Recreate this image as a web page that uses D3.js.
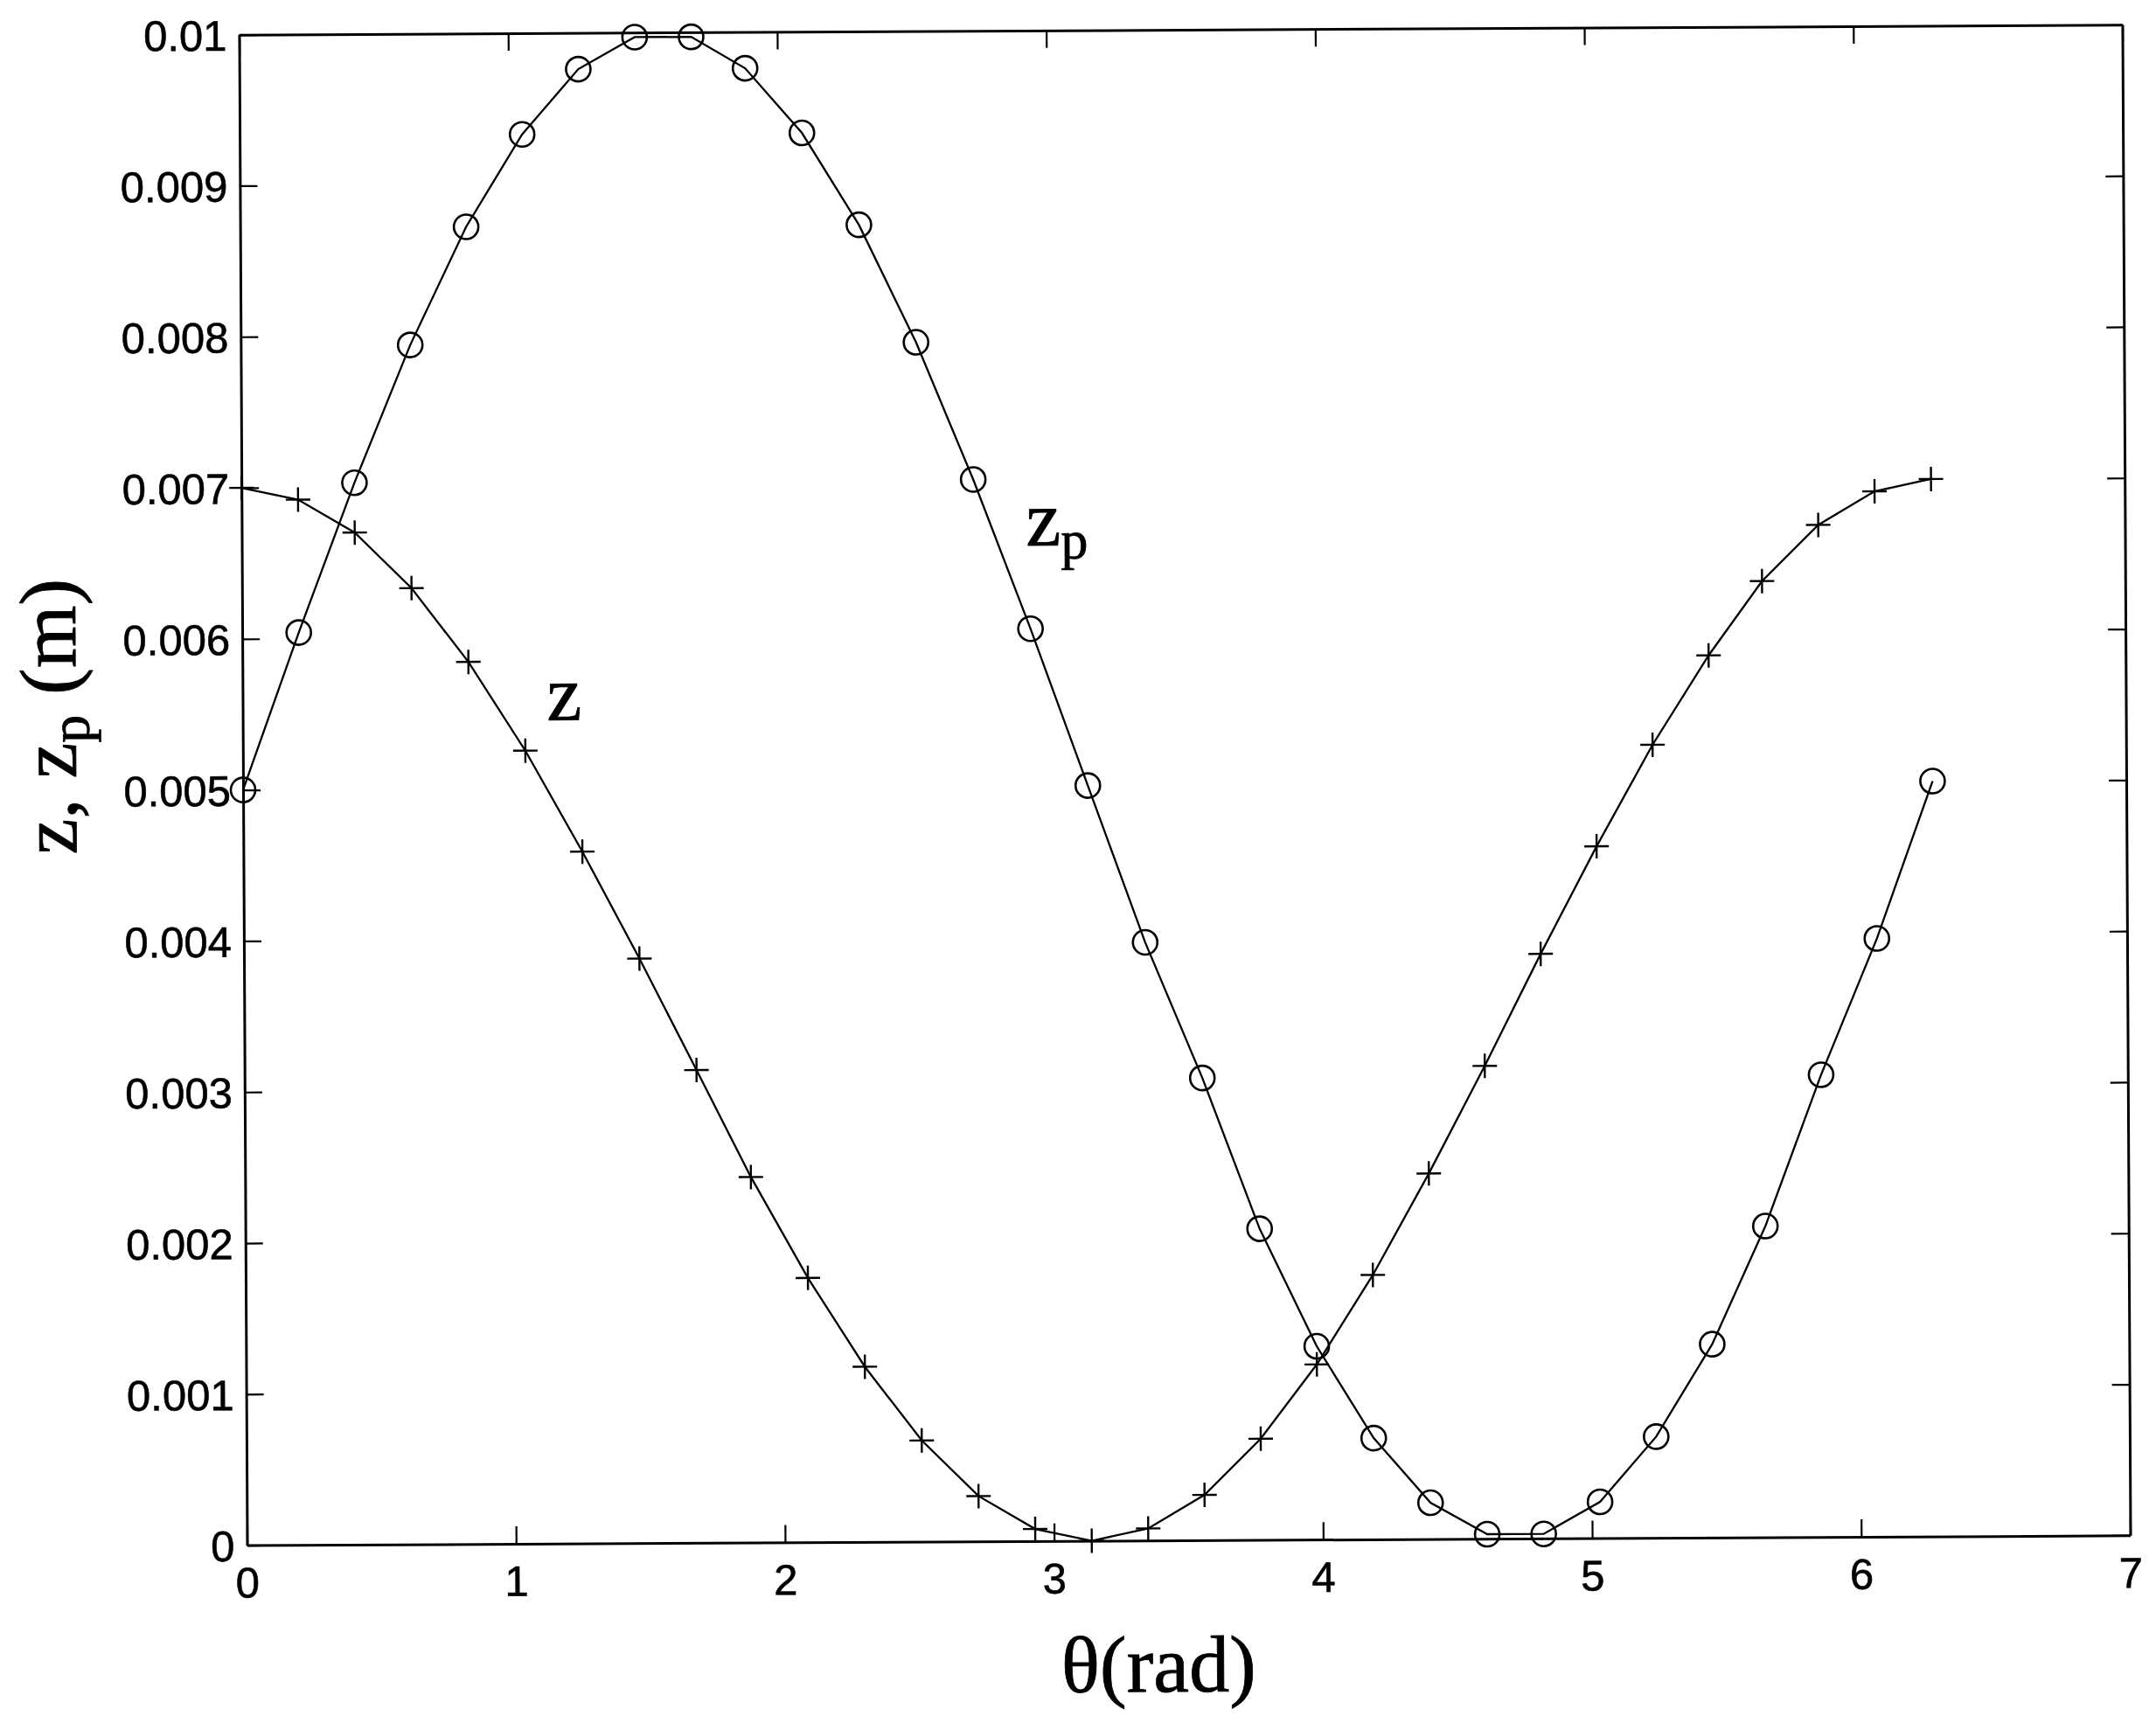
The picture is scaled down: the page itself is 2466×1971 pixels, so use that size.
<!DOCTYPE html>
<html><head><meta charset="utf-8">
<script src="https://cdn.jsdelivr.net/npm/d3@7"></script>
<style>html,body{margin:0;padding:0;background:#fff;}</style>
</head><body>
<svg id="chart" width="2466" height="1971"></svg>
<script>
// θ (rad) sample positions
const thetaValues = [0, 0.21, 0.42, 0.63, 0.84, 1.05, 1.26, 1.47, 1.68, 1.88, 2.09, 2.30, 2.51, 2.72, 2.93, 3.14,
  3.35, 3.56, 3.77, 3.98, 4.19, 4.40, 4.61, 4.82, 5.03, 5.24, 5.45, 5.65, 5.86, 6.07, 6.28];
// z (m), "+" markers
const zValues = [0.0070, 0.00692, 0.00670, 0.00633, 0.00584, 0.00525, 0.00458, 0.00387, 0.00313, 0.00242, 0.00175,
  0.00116, 0.00067, 0.00030, 0.00008, 0.0, 0.00008, 0.00030, 0.00067, 0.00116, 0.00175, 0.00242, 0.00313,
  0.00387, 0.00458, 0.00525, 0.00584, 0.00633, 0.00670, 0.00692, 0.0070];
// zp (m), "o" markers
const zpValues = [0.0050, 0.00604, 0.00703, 0.00794, 0.00872, 0.00933, 0.00976, 0.00997, 0.00997, 0.00976, 0.00933,
  0.00872, 0.00794, 0.00703, 0.00604, 0.0050, 0.00396, 0.00306, 0.00206, 0.00128, 0.00067, 0.00024, 0.00003,
  0.00003, 0.00024, 0.00067, 0.00128, 0.00206, 0.00306, 0.00396, 0.0050];
const xTickValues = [0, 1, 2, 3, 4, 5, 6, 7];
const xTickLabels = ["0", "1", "2", "3", "4", "5", "6", "7"];
const yTickValues = [0, 0.001, 0.002, 0.003, 0.004, 0.005, 0.006, 0.007, 0.008, 0.009, 0.01];
const yTickLabels = ["0", "0.001", "0.002", "0.003", "0.004", "0.005", "0.006", "0.007", "0.008", "0.009", "0.01"];

const cx = 1355, cy = 898, halfW = 1077, halfH = 864;
const plotLeft = cx - halfW, plotTop = cy - halfH, W = 2 * halfW, H = 2 * halfH;

const svg = d3.select("#chart");
svg.append("rect").attr("width", 2466).attr("height", 1971).attr("fill", "#fff");
const root = svg.append("g").attr("transform", `rotate(-0.3, ${cx}, ${cy})`);
const g = root.append("g").attr("transform", `translate(${plotLeft},${plotTop})`);

const x = d3.scaleLinear().domain([0, 7]).range([0, W]);
const y = d3.scaleLinear().domain([0, 0.01]).range([H, 0]);

const sansFont = "'Liberation Sans', Arial, Helvetica, sans-serif";
const serifFont = "'Liberation Serif', 'Times New Roman', Times, serif";

function styleAxis(sel) {
  sel.select(".domain").attr("stroke", "#000").attr("stroke-width", 3);
  sel.selectAll(".tick line").attr("stroke", "#000").attr("stroke-width", 2.2);
  sel.selectAll(".tick text").attr("fill", "#000").style("font-family", sansFont).style("font-size", "49px")
    .attr("stroke", "#000").attr("stroke-width", 0.6);
}

const xAxisB = g.append("g").attr("transform", `translate(0,${H})`)
  .call(d3.axisBottom(x).tickValues(xTickValues).tickFormat((d, i) => xTickLabels[i])
    .tickSizeInner(-20).tickSizeOuter(0).tickPadding(25));
styleAxis(xAxisB);

const xAxisT = g.append("g")
  .call(d3.axisTop(x).tickValues(xTickValues).tickFormat("").tickSizeInner(-20).tickSizeOuter(0));
styleAxis(xAxisT);

const yAxisL = g.append("g")
  .call(d3.axisLeft(y).tickValues(yTickValues).tickFormat((d, i) => yTickLabels[i])
    .tickSizeInner(-20).tickSizeOuter(0).tickPadding(14));
styleAxis(yAxisL);
yAxisL.selectAll(".tick text").attr("dy", "0.36em");

const yAxisR = g.append("g").attr("transform", `translate(${W},0)`)
  .call(d3.axisRight(y).tickValues(yTickValues).tickFormat("").tickSizeInner(-20).tickSizeOuter(0));
styleAxis(yAxisR);

const zData = thetaValues.map((t, i) => ({t, v: zValues[i]}));
const zpData = thetaValues.map((t, i) => ({t, v: zpValues[i]}));
const line = d3.line().x(d => x(d.t)).y(d => y(d.v));

g.append("path").datum(zData).attr("d", line)
  .attr("fill", "none").attr("stroke", "#000").attr("stroke-width", 2.3);
g.append("path").datum(zpData).attr("d", line)
  .attr("fill", "none").attr("stroke", "#000").attr("stroke-width", 2.3);

g.selectAll(".plus").data(zData).enter().append("path")
  .attr("class", "plus")
  .attr("transform", d => `translate(${x(d.t)},${y(d.v)})`)
  .attr("d", "M-14,0H14M0,-14V14")
  .attr("stroke", "#000").attr("stroke-width", 2.4).attr("fill", "none");

g.selectAll(".circ").data(zpData).enter().append("circle")
  .attr("class", "circ")
  .attr("cx", d => x(d.t)).attr("cy", d => y(d.v)).attr("r", 14)
  .attr("stroke", "#000").attr("stroke-width", 2.6).attr("fill", "none");

// axis labels
root.append("text")
  .attr("x", 1320).attr("y", 1935).attr("text-anchor", "middle")
  .style("font-family", serifFont).style("font-size", "92px").attr("fill", "#000")
  .attr("stroke", "#000").attr("stroke-width", 0.8)
  .text("θ(rad)");

const yl = root.append("text")
  .attr("transform", "translate(87,813) rotate(-90)").attr("text-anchor", "middle")
  .style("font-family", serifFont).style("font-size", "92px").attr("fill", "#000")
  .attr("stroke", "#000").attr("stroke-width", 0.8);
yl.append("tspan").text("z, z");
yl.append("tspan").attr("dy", 15).style("font-size", "64px").text("p");
yl.append("tspan").attr("dy", -15).text(" (m)");

// curve annotations
root.append("text").attr("x", 626).attr("y", 820)
  .style("font-family", serifFont).style("font-size", "90px").attr("fill", "#000")
  .attr("stroke", "#000").attr("stroke-width", 0.8).text("z");
const zpl = root.append("text").attr("x", 1175).attr("y", 623)
  .style("font-family", serifFont).style("font-size", "90px").attr("fill", "#000")
  .attr("stroke", "#000").attr("stroke-width", 0.8);
zpl.append("tspan").text("z");
zpl.append("tspan").attr("dy", 15).style("font-size", "62px").text("p");
</script>
</body></html>
